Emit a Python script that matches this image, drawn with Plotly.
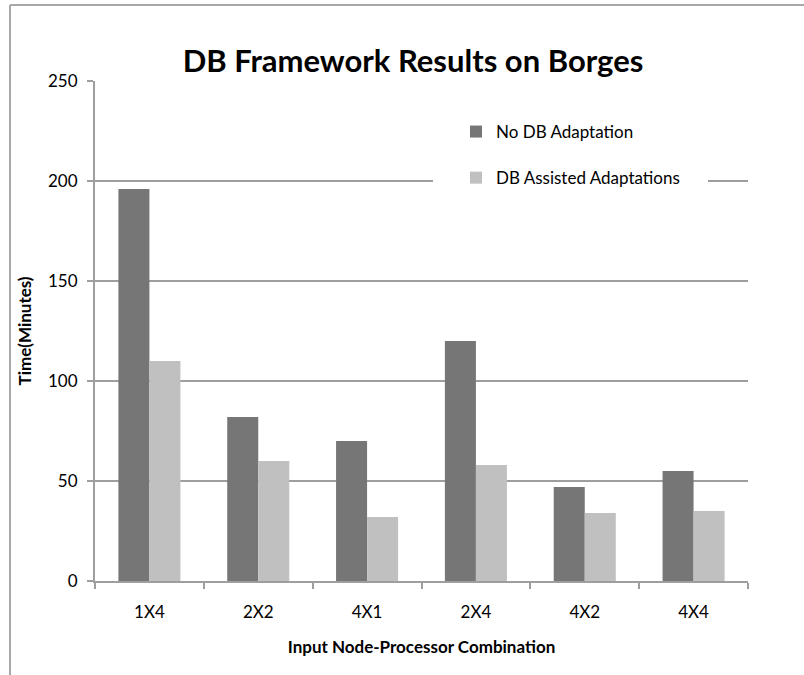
import plotly.graph_objects as go

# Node x processor combinations and run times (minutes)
categories = ["1X4", "2X2", "4X1", "2X4", "4X2", "4X4"]
no_db = [196, 82, 70, 120, 47, 55]
db_assisted = [110, 60, 32, 58, 34, 35]
y_ticks = [0, 50, 100, 150, 200, 250]

FONT = "Lato"
GRID = "#9e9e9e"

W, H = 804, 675
L, R, T, B = 95, 56, 81, 94
PW, PH = W - L - R, H - T - B


def px_x(x):
    return (x - L) / PW


def px_y(y):
    return 1 - (y - T) / PH


fig = go.Figure()
fig.add_trace(go.Bar(x=categories, y=no_db, name="No DB Adaptation",
                     marker=dict(color="#767676", line=dict(width=0)),
                     legendgroup="a"))
fig.add_trace(go.Bar(x=categories, y=db_assisted, name="DB Assisted Adaptations",
                     marker=dict(color="#c0c0c0", line=dict(width=0)),
                     legendgroup="b"))

shapes = [
    # outer chart frame (top and left edges)
    dict(type="line", xref="paper", yref="paper",
         x0=px_x(10), x1=px_x(W + 20), y0=px_y(5), y1=px_y(5),
         line=dict(color="#a8a8a8", width=2)),
    dict(type="line", xref="paper", yref="paper",
         x0=px_x(10), x1=px_x(10), y0=px_y(5), y1=px_y(H + 20),
         line=dict(color="#a8a8a8", width=2)),
    # white backing behind the legend
    dict(type="rect", xref="paper", yref="paper", layer="above",
         x0=px_x(433), x1=px_x(708), y0=px_y(110), y1=px_y(196),
         fillcolor="white", line=dict(width=0)),
]

fig.update_layout(
    width=W, height=H,
    margin=dict(l=L, r=R, t=T, b=B),
    paper_bgcolor="white", plot_bgcolor="white",
    barmode="group", bargap=0.43, bargroupgap=0,
    font=dict(family=FONT, color="#000000", size=17),
    title=dict(text="<b>DB Framework Results on Borges</b>",
               font=dict(family=FONT, size=31, color="#000000"),
               x=px_x(413), xref="paper", xanchor="center",
               y=1 - 61 / H, yref="container", yanchor="middle"),
    showlegend=True,
    legend=dict(x=px_x(456), y=px_y(114), xanchor="left", yanchor="top",
                bgcolor="rgba(0,0,0,0)", borderwidth=0,
                tracegroupgap=21, font=dict(family=FONT, size=17),
                traceorder="grouped"),
    shapes=shapes,
)

fig.update_xaxes(
    type="category", showgrid=False, showline=True, linecolor=GRID, linewidth=2,
    ticks="outside", tickson="boundaries", ticklen=6, tickcolor=GRID, tickwidth=2,
    ticklabelstandoff=15,
    tickfont=dict(family=FONT, size=17, color="#000000"),
    title=dict(text="<b>Input Node-Processor Combination</b>",
               font=dict(family=FONT, size=17, color="#000000"), standoff=20),
)
fig.update_yaxes(
    range=[0, 250], tickvals=y_ticks, showgrid=True, gridcolor=GRID, gridwidth=2,
    showline=True, linecolor=GRID, linewidth=2, zeroline=False,
    ticks="outside", ticklen=6, tickcolor=GRID, tickwidth=2,
    ticklabelstandoff=6,
    tickfont=dict(family=FONT, size=17, color="#000000"),
    title=dict(text="<b>Time(Minutes)</b>",
               font=dict(family=FONT, size=17, color="#000000"), standoff=12),
)

fig.write_html("out.html")
